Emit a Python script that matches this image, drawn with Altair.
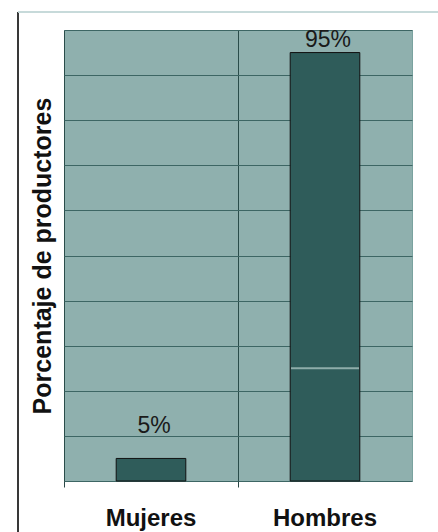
import altair as alt
import pandas as pd

# Share of producers by sex
categorias = ["Mujeres", "Hombres"]
porcentajes = [5, 95]
etiquetas = ["5%", "95%"]
# light seam across the taller bar
marca_categoria = ["Hombres"]
marca_valor = [25]
# horizontal guide lines every ten points
valores_guia = [0, 10, 20, 30, 40, 50, 60, 70, 80, 90, 100]

df = pd.DataFrame({"sexo": categorias, "pct": porcentajes, "etiqueta": etiquetas})
df_marca = pd.DataFrame({"sexo": marca_categoria, "pct": marca_valor})

FONT = "Liberation Sans"
BG = "#8fb0ae"
BAR = "#2f5c5a"
GRID = "#3d6664"

x_enc = alt.X(
    "sexo:N",
    sort=categorias,
    title=None,
    scale=alt.Scale(paddingInner=0.6, paddingOuter=0.3),
    axis=alt.Axis(
        bandPosition=-0.75,
        grid=True,
        gridColor="#2a4c4a",
        gridWidth=1,
        domain=False,
        ticks=True,
        tickColor="#2a4746",
        tickSize=6,
        labelAngle=0,
        labelFont=FONT,
        labelFontSize=24,
        labelFontWeight="bold",
        labelColor="#111111",
        labelPadding=19,
    ),
)
y_enc = alt.Y(
    "pct:Q",
    scale=alt.Scale(domain=[0, 100], nice=False),
    axis=alt.Axis(
        title="Porcentaje de productores",
        titleFont=FONT,
        titleFontSize=25,
        titleFontWeight="bold",
        titleColor="#111111",
        titlePadding=9,
        labels=False,
        ticks=False,
        domain=False,
        grid=True,
        gridColor=GRID,
        gridWidth=1,
        values=valores_guia,
    ),
)

bars = alt.Chart(df).mark_bar(
    color=BAR, stroke="#111111", strokeWidth=1
).encode(x=x_enc, y=y_enc)

seam = alt.Chart(df_marca).mark_tick(
    orient="horizontal", color="#b7d0cc", thickness=2, size=68
).encode(x=alt.X("sexo:N", sort=categorias), y="pct:Q")

def etiqueta(cat, dy):
    return (
        alt.Chart(df)
        .transform_filter(alt.datum.sexo == cat)
        .mark_text(
            font=FONT, fontSize=23, color="#1a1a1a",
            baseline="alphabetic", dy=dy, dx=3,
        )
        .encode(x=alt.X("sexo:N", sort=categorias), y="pct:Q", text="etiqueta:N")
    )

# frame lines around the figure
marco_izq = alt.Chart(df).mark_rule(color="#2b2b2b", strokeWidth=1.5).encode(
    x=alt.value(-46), y=alt.value(-18), y2=alt.value(505)
)
marco_sup = alt.Chart(df).mark_rule(color="#c3d7d7", strokeWidth=1.5).encode(
    x=alt.value(-46), x2=alt.value(378), y=alt.value(-18)
)

chart = (
    alt.layer(bars, seam, etiqueta("Mujeres", -25), etiqueta("Hombres", -6),
              marco_izq, marco_sup)
    .properties(
        width=348,
        height=451,
        autosize=alt.AutoSizeParams(type="none"),
        padding={"left": 64, "top": 30, "right": 26, "bottom": 51},
        background="white",
    )
    .configure_view(fill=BG, stroke="#7aa29f", strokeWidth=1)
)

chart.save("out.html", embed_options={"renderer": "svg", "actions": False})
